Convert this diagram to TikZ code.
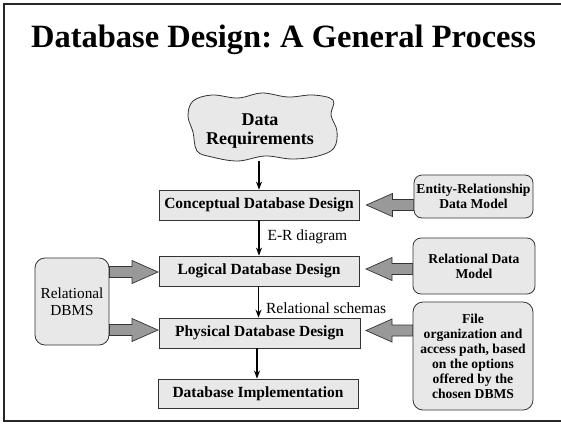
\documentclass[tikz,border=0pt]{standalone}
\usepackage{fontspec}
\setmainfont{Liberation Serif}
\usetikzlibrary{arrows.meta,calc}
\frenchspacing
\definecolor{boxfill}{gray}{0.91}
\definecolor{arrowfill}{gray}{0.6}
\tikzset{
  mainbox/.style={draw=black!80, line width=0.8pt, fill=boxfill, minimum width=200pt, minimum height=30pt, inner sep=0pt, font=\fontsize{15.5}{17}\selectfont\bfseries},
  sidebox/.style={draw=black!80, line width=0.8pt, fill=boxfill, rounded corners=8pt, inner sep=0pt, align=center, font=\fontsize{13.6}{15}\selectfont\bfseries},
  flow/.style={line width=1.2pt, -{Stealth[length=8pt,width=6pt]}},
  lbl/.style={font=\fontsize{15.5}{17}\selectfont, anchor=west, inner sep=0pt},
  bigarrow/.style={draw=black!80, line width=0.7pt, fill=arrowfill, line join=miter},
  frameline/.style={draw=black!85, line width=1.4pt}
}
\newcommand{\blockarrow}[2]{% #1 tip point, #2 tail point (same y used from tip)
  \draw[bigarrow] let \p1=(#1), \p2=(#2) in
    (\x1,\y1) -- (\x1+26pt,\y1+11.5pt) -- (\x1+26pt,\y1+5.5pt) -- (\x2,\y1+5.5pt)
    -- (\x2,\y1-5.5pt) -- (\x1+26pt,\y1-5.5pt) -- (\x1+26pt,\y1-11.5pt) -- cycle;}
\newcommand{\blockarrowR}[2]{% #1 tail point, #2 tip point (pointing right)
  \draw[bigarrow] let \p1=(#2), \p2=(#1) in
    (\x1,\y1) -- (\x1-26pt,\y1+11.5pt) -- (\x1-26pt,\y1+5.5pt) -- (\x2,\y1+5.5pt)
    -- (\x2,\y1-5.5pt) -- (\x1-26pt,\y1-5.5pt) -- (\x1-26pt,\y1-11.5pt) -- cycle;}
\begin{document}
\begin{tikzpicture}[x=1pt,y=-1pt]
\useasboundingbox (0,0) rectangle (561,424);
% frame
\draw[frameline] (562,4) -- (4,4) -- (4,421) -- (562,421);
% title
\node[font=\fontsize{32.5}{36}\selectfont\bfseries] (title) at (283.5,40) {Database Design: A General Process};
% cloud
\draw[line width=0.8pt, fill=boxfill, draw=black!80] plot[smooth cycle, tension=0.6] coordinates {
 (193,101) (212,95) (238,98) (262,93) (288,97) (313,95) (333,100) (331,115)
 (337,131) (334,148) (318,156) (292,159) (265,156) (238,161) (212,157) (197,151)
 (193,132) (188,116)};
\node[font=\fontsize{18}{18.5}\selectfont\bfseries, align=center, inner sep=0pt] (req) at (260,131) {Data\\Requirements};
\coordinate (cloudbot) at (259,161);
% main boxes
\node[mainbox] (con) at (259,205) {Conceptual Database Design};
\node[mainbox] (log) at (259,271) {Logical Database Design};
\node[mainbox, minimum width=201pt] (phy) at (259.5,333) {Physical Database Design};
\node[mainbox, minimum height=29pt] (imp) at (258,393.5) {Database Implementation};
% side boxes
\node[sidebox, minimum width=119pt, minimum height=43pt] (er) at (473.5,196.5) {Entity-Relationship\\Data Model};
\node[sidebox, minimum width=122pt, minimum height=56pt] (rdm) at (474,266) {Relational Data\\Model};
\node[sidebox, minimum width=120pt, minimum height=108pt, rounded corners=10pt] (fo) at (473,356) {File\\organization and\\access path, based\\on the options\\offered by the\\chosen DBMS};
\node[sidebox, minimum width=74pt, minimum height=87pt, rounded corners=10pt, font=\fontsize{15.3}{17}\selectfont] (dbms) at (72,301.5) {Relational\\DBMS};
% flow arrows
\draw[flow] (cloudbot) -- (cloudbot |- con.north);
\draw[flow] (con.south) -- (log.north) node[lbl, pos=0.5, xshift=8pt, yshift=1pt] (erlbl) {E-R diagram};
\draw[flow] ([xshift=-0.5pt]log.south) -- ([xshift=-0.5pt]log.south |- phy.north) node[lbl, pos=0.6, xshift=7pt, yshift=-3pt] (rslbl) {Relational schemas};
\draw[flow] ([xshift=-2.5pt]phy.south) -- ([xshift=-2.5pt]phy.south |- imp.north);
% block arrows
\coordinate (t1) at ($(con.east)+(7,0)$);
\blockarrow{t1}{er.west}
\coordinate (t2) at (366,269);
\blockarrow{t2}{rdm.west}
\coordinate (t3) at (366,330.5);
\blockarrow{t3}{fo.west}
\coordinate (t4) at (158,272);
\coordinate (s4) at (dbms.east |- t4);
\blockarrowR{s4}{t4}
\coordinate (t5) at (158,330);
\coordinate (s5) at (dbms.east |- t5);
\blockarrowR{s5}{t5}
\end{tikzpicture}
\end{document}
